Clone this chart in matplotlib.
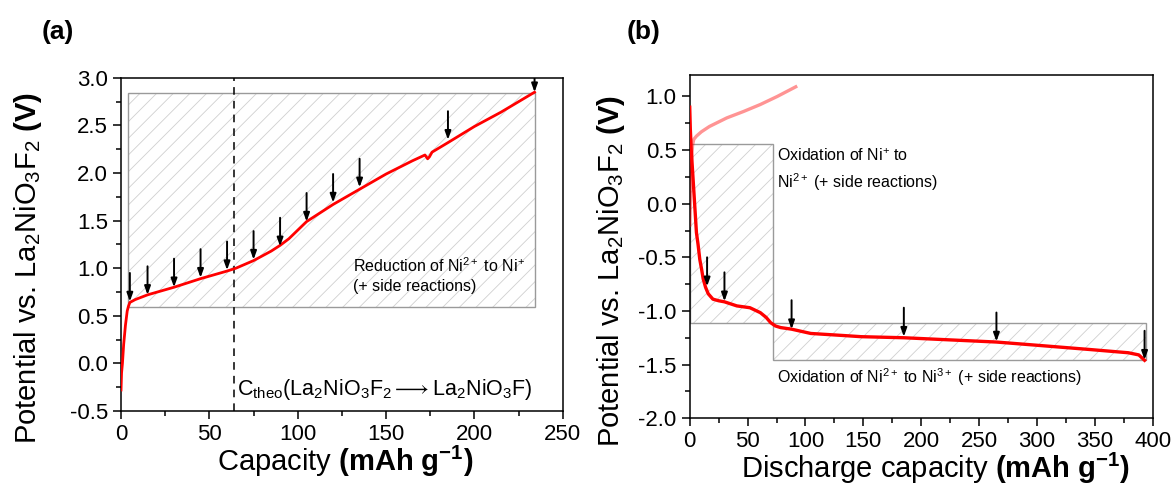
import numpy as np
import matplotlib
matplotlib.use('Agg')
import matplotlib.pyplot as plt
from matplotlib.patches import Rectangle

plt.rcParams['font.family'] = ['Liberation Sans', 'DejaVu Sans']
plt.rcParams['mathtext.fontset'] = 'custom'
plt.rcParams['mathtext.rm'] = 'Liberation Sans'
plt.rcParams['mathtext.it'] = 'Liberation Sans:italic'
plt.rcParams['mathtext.bf'] = 'Liberation Sans:bold'
plt.rcParams['hatch.linewidth'] = 0.6

# ---- panel (a): charge curve ----
cap_a = [0, 0.3, 0.8, 1.5, 2.5, 3.5, 4.2, 5, 8, 15, 30, 45, 60, 65, 75, 85, 90, 95,
         105, 120, 135, 150, 165, 172, 173.5, 174.5, 176, 185, 200, 215, 234]
pot_a = [-0.28, -0.1, 0.0, 0.2, 0.4, 0.55, 0.6, 0.64, 0.67, 0.72, 0.8, 0.89, 0.97, 1.0,
         1.08, 1.18, 1.24, 1.31, 1.49, 1.67, 1.83, 1.99, 2.13, 2.19, 2.15, 2.17, 2.22,
         2.32, 2.49, 2.64, 2.85]
arrow_x_a = [5, 15, 30, 45, 60, 75, 90, 105, 120, 135, 185, 234]
arrow_y_a = [0.65, 0.72, 0.80, 0.90, 0.98, 1.09, 1.23, 1.49, 1.69, 1.85, 2.35, 2.85]
box_a = (4.2, 0.59, 234, 2.84)      # x0, y0, x1, y1
c_theo = 64

# ---- panel (b): discharge curve + first charge (faded) ----
cap_b = [0, 0.5, 1.3, 2.5, 4, 5.8, 7.2, 8.7, 10.4, 11.6, 13.7, 16, 20, 25, 30, 40.7,
         52, 61, 66, 70, 74, 78.5, 88, 104.6, 134, 148, 185, 225, 265, 300, 346, 379,
         388, 393]
pot_b = [0.9, 0.7, 0.5, 0.3, 0.04, -0.27, -0.38, -0.52, -0.62, -0.70, -0.78, -0.84,
         -0.89, -0.905, -0.915, -0.953, -0.97, -1.016, -1.06, -1.11, -1.14, -1.155,
         -1.17, -1.21, -1.23, -1.24, -1.25, -1.27, -1.29, -1.32, -1.36, -1.39, -1.41,
         -1.46]
cap_b_ch = [0, 0.6, 1.5, 2.5, 3.5, 5.8, 10, 17, 32, 46.5, 61, 75.6, 91.6]
pot_b_ch = [-0.2, 0.1, 0.4, 0.55, 0.6, 0.63, 0.67, 0.72, 0.80, 0.86, 0.925, 1.0, 1.09]
arrow_x_b = [15, 30, 88, 185, 265, 393]
arrow_y_b = [-0.77, -0.91, -1.17, -1.24, -1.285, -1.455]
box_b1 = (0.6, -1.11, 71.8, 0.56)
box_b2 = (71.8, -1.457, 394, -1.11)

ylab = 'Potential vs. La$_2$NiO$_3$F$_2$ $\\mathbf{(V)}$'


def style_axes(ax):
    for s in ax.spines.values():
        s.set_linewidth(1.1)
    ax.tick_params(which='both', direction='out', top=False, right=False,
                   labelsize=16, width=1.1)
    ax.tick_params(which='major', length=6)
    ax.tick_params(which='minor', length=3.5)


def hatched_box(ax, box, edge='#9a9a9a'):
    x0, y0, x1, y1 = box
    ax.add_patch(Rectangle((x0, y0), x1 - x0, y1 - y0, fill=False, hatch='//',
                           edgecolor='#cfcfcf', linewidth=0, zorder=1))
    ax.add_patch(Rectangle((x0, y0), x1 - x0, y1 - y0, fill=False,
                           edgecolor=edge, linewidth=1.0, zorder=2))


def arrows(ax, xs, ys, length):
    for x, y in zip(xs, ys):
        an = ax.annotate('', xy=(x, y), xytext=(x, y + length),
                         arrowprops=dict(arrowstyle='-|>,head_length=0.5,head_width=0.18',
                                         color='k', lw=1.4, shrinkA=0, shrinkB=0),
                         zorder=4)
        an.arrow_patch.set_clip_box(ax.bbox)
        an.arrow_patch.set_clip_on(True)


fig = plt.figure(figsize=(11.75, 4.84), dpi=100)

# (a)
ax1 = fig.add_axes([0.103, 0.151, 0.376, 0.688])
hatched_box(ax1, box_a)
ax1.axvline(c_theo, color='k', ls=(0, (5, 4)), lw=1.1, zorder=2)
ax1.plot(cap_a, pot_a, color='#ff0000', lw=2.0, zorder=3)
arrows(ax1, arrow_x_a, arrow_y_a, 0.3)
ax1.set_xlim(0, 250)
ax1.set_ylim(-0.5, 3.0)
ax1.set_xticks(np.arange(0, 251, 50))
ax1.set_xticks(np.arange(25, 250, 50), minor=True)
ax1.set_yticks(np.arange(-0.5, 3.01, 0.5))
ax1.set_yticks(np.arange(-0.25, 3.0, 0.5), minor=True)
ax1.yaxis.set_major_formatter(matplotlib.ticker.FormatStrFormatter('%.1f'))
style_axes(ax1)
ax1.text(131.5, 0.93, 'Reduction of Ni$^{2+}$ to Ni$^{+}$\n(+ side reactions)',
         fontsize=11.5, va='center', ha='left', linespacing=1.3)
ax1.text(65.7, -0.28, 'C$_{\\rm theo}$(La$_2$NiO$_3$F$_2$$\\longrightarrow$La$_2$NiO$_3$F)',
         fontsize=15.5, va='center', ha='left')
ax1.set_xlabel('Capacity $\\mathbf{(mAh\\ g^{-1})}$', fontsize=21)
ax1.set_ylabel(ylab, fontsize=21)
ax1.xaxis.set_label_coords(0.507, -0.10)
ax1.yaxis.set_label_coords(-0.175, 0.43)

# (b)
ax2 = fig.add_axes([0.587, 0.136, 0.394, 0.709])
hatched_box(ax2, box_b1)
hatched_box(ax2, box_b2)
ax2.plot(cap_b_ch, pot_b_ch, color='#ff0000', alpha=0.42, lw=2.4, zorder=3)
ax2.plot(cap_b, pot_b, color='#ff0000', lw=2.4, zorder=3)
arrows(ax2, arrow_x_b, arrow_y_b, 0.27)
ax2.set_xlim(0, 400)
ax2.set_ylim(-2.0, 1.2)
ax2.set_xticks(np.arange(0, 401, 50))
ax2.set_xticks(np.arange(25, 400, 50), minor=True)
ax2.set_yticks(np.arange(-2.0, 1.01, 0.5))
ax2.set_yticks(np.arange(-1.75, 1.2, 0.5), minor=True)
ax2.yaxis.set_major_formatter(matplotlib.ticker.FormatStrFormatter('%.1f'))
style_axes(ax2)
ax2.text(75.6, 0.31, 'Oxidation of Ni$^{+}$ to\nNi$^{2+}$ (+ side reactions)',
         fontsize=11.5, va='center', ha='left', linespacing=1.45)
ax2.text(75, -1.62, 'Oxidation of Ni$^{2+}$ to Ni$^{3+}$ (+ side reactions)',
         fontsize=11.5, va='center', ha='left')
ax2.set_xlabel('Discharge capacity $\\mathbf{(mAh\\ g^{-1})}$', fontsize=21)
ax2.set_ylabel(ylab, fontsize=21)
ax2.xaxis.set_label_coords(0.53, -0.095)
ax2.yaxis.set_label_coords(-0.135, 0.43)

fig.text(58 / 1175, 1 - 32 / 484, '(a)', fontsize=19, fontweight='bold', ha='center', va='center')
fig.text(644 / 1175, 1 - 32 / 484, '(b)', fontsize=19, fontweight='bold', ha='center', va='center')

fig.savefig('out.png', dpi=100)
